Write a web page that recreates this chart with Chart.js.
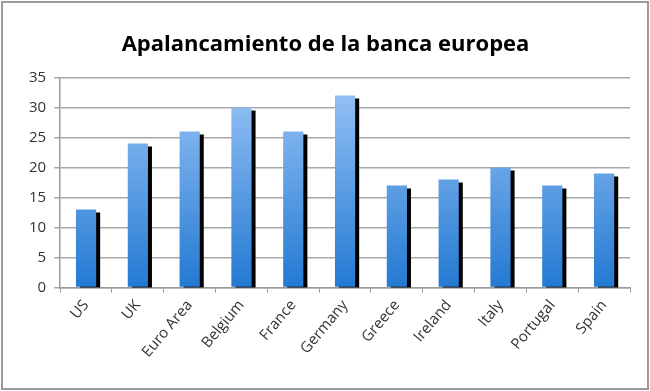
<!DOCTYPE html>
<html>
<head>
<meta charset="utf-8">
<script src="https://cdn.jsdelivr.net/npm/chart.js@4/dist/chart.umd.min.js"></script>
<style>
  html, body { margin: 0; padding: 0; background: #fff; }
  #wrap { position: absolute; left: 1px; top: 1px; width: 644px; height: 385px; border: 2px solid #9a9a9a; background: #fff; }
</style>
</head>
<body>
<div id="wrap"><canvas id="myChart" width="644" height="385"></canvas></div>
<script>
const countries = ['US', 'UK', 'Euro Area', 'Belgium', 'France', 'Germany', 'Greece', 'Ireland', 'Italy', 'Portugal', 'Spain'];
const leverage = [13, 24, 26, 30, 26, 32, 17, 18, 20, 17, 19];
const yTicks = [0, 5, 10, 15, 20, 25, 30, 35];

// black drop shadow on the right side of each bar, like the excel original
const barShadow = {
    id: 'barShadow',
    beforeDatasetDraw(chart) {
        const c = chart.ctx;
        c.save();
        c.shadowColor = 'rgba(0,0,0,1)';
        c.shadowOffsetX = 4;
        c.shadowOffsetY = 3;
        c.shadowBlur = 0;
    },
    afterDatasetDraw(chart) {
        chart.ctx.restore();
    }
};

function barGradient(context) {
    const el = context.element;
    const chart = context.chart;
    if (!chart.chartArea) return '#5a9be6';
    const top = el && el.y !== undefined && !isNaN(el.y) ? el.y : chart.chartArea.top;
    const bottom = chart.chartArea.bottom;
    const g = chart.ctx.createLinearGradient(0, top, 0, bottom);
    g.addColorStop(0, '#9cc6f7');
    g.addColorStop(1, '#2379d2');
    return g;
}

const ctx = document.getElementById('myChart').getContext('2d');

var myChart = new Chart(ctx, {
    type: 'bar',
    data: {
        labels: countries,
        datasets: [{
            label: 'Apalancamiento',
            data: leverage,
            backgroundColor: barGradient,
            borderWidth: 0,
            barPercentage: 0.78,
            categoryPercentage: 0.5
        }]
    },
    plugins: [barShadow],
    options: {
        responsive: false,
        animation: false,
        layout: { padding: { top: 10, right: 17, left: 18, bottom: 23 } },
        plugins: {
            legend: { display: false },
            tooltip: { enabled: false },
            title: {
                display: true,
                text: 'Apalancamiento de la banca europea',
                color: '#000',
                font: { family: 'Open Sans', size: 22, weight: 'bold' },
                padding: { top: 19, bottom: 19 }
            }
        },
        scales: {
            x: {
                grid: { drawOnChartArea: false, drawTicks: true, tickLength: 5, color: '#9a9a9a', lineWidth: 1 },
                border: { color: '#9a9a9a', width: 1.5 },
                ticks: {
                    color: '#333',
                    font: { family: 'Open Sans', size: 15 },
                    maxRotation: 50,
                    minRotation: 50,
                    autoSkip: false,
                    padding: 4
                }
            },
            y: {
                min: 0,
                max: 35,
                afterBuildTicks(axis) {
                    axis.ticks = yTicks.map(v => ({ value: v }));
                },
                grid: { color: '#a8a8a8', lineWidth: 1.5, tickLength: 6 },
                border: { color: '#9a9a9a', width: 1.5 },
                ticks: {
                    color: '#333',
                    font: { family: 'Open Sans', size: 15 },
                    padding: 8
                }
            }
        }
    }
});
</script>
</body>
</html>
